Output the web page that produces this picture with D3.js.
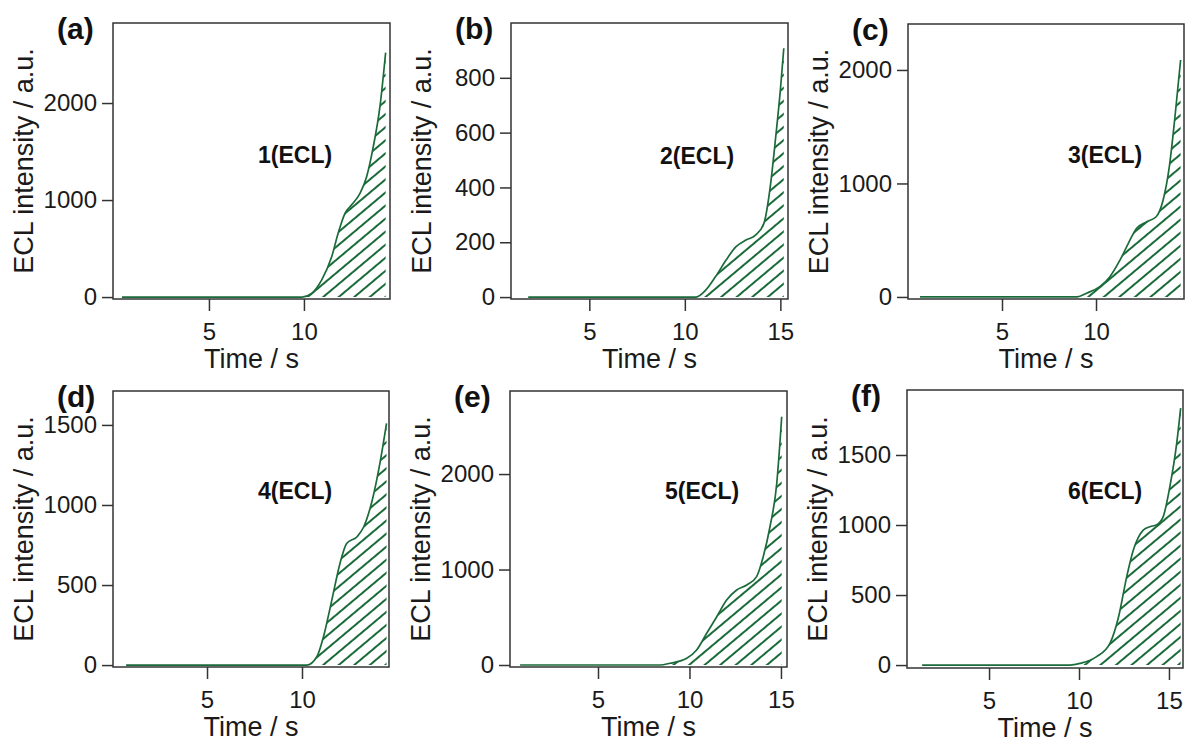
<!DOCTYPE html>
<html>
<head>
<meta charset="utf-8">
<script src="https://cdn.jsdelivr.net/npm/d3@7"></script>
<style>
  body { margin: 0; background: #fff; }
  svg { display: block; font-family: "Liberation Sans", Arial, sans-serif; }
</style>
</head>
<body>
<div id="chart"></div>
<script>
// panel titles and sample names
const panelLetters = ["(a)", "(b)", "(c)", "(d)", "(e)", "(f)"];
const sampleLabels = ["1(ECL)", "2(ECL)", "3(ECL)", "4(ECL)", "5(ECL)", "6(ECL)"];

// ECL transients (time in s, intensity in a.u.)
const timeA = [0.42, 9.9, 10.4, 10.93, 11.46, 11.8, 12.16, 12.5, 12.95, 13.3, 13.65, 14.0, 14.3];
const eclA  = [0, 0, 38, 175, 415, 657, 863, 948, 1069, 1240, 1550, 1962, 2520];

const timeB = [1.8, 10.58, 11.1, 11.6, 12.16, 12.68, 13.2, 13.7, 14.14, 14.47, 14.74, 15.0, 15.18];
const eclB  = [0, 0, 26, 74, 135, 184, 208, 226, 269, 402, 573, 755, 908];

const timeC = [0.64, 9.0, 9.5, 10.2, 10.74, 11.28, 11.72, 12.16, 12.7, 13.2, 13.57, 13.9, 14.2, 14.5];
const eclC  = [0, 0, 33, 91, 179, 326, 473, 605, 663, 707, 854, 1148, 1588, 2088];

const timeD = [0.74, 10.25, 10.78, 11.13, 11.57, 12.0, 12.35, 12.9, 13.25, 13.7, 14.1, 14.45];
const eclD  = [0, 0, 52, 177, 406, 635, 760, 802, 864, 1031, 1260, 1510];

const timeE = [0.74, 8.39, 8.93, 9.85, 10.39, 10.94, 11.49, 12.03, 12.58, 13.13, 13.67, 14.03, 14.4, 14.77, 15.04];
const eclE  = [0, 0, 18, 70, 157, 332, 506, 680, 785, 838, 925, 1134, 1448, 1903, 2600];

const timeF = [1.28, 9.5, 10.05, 10.98, 11.72, 12.2, 12.65, 13.02, 13.57, 13.94, 14.3, 14.68, 15.05, 15.43, 15.65];
const eclF  = [0, 0, 12, 60, 155, 345, 630, 821, 964, 988, 1000, 1060, 1274, 1583, 1834];

// axis ranges and tick values
const xDomains = [[-0.05, 14.53], [0.9, 15.4], [0, 14.68], [0.05, 14.58], [0.19, 15.33], [0.44, 15.78]];
const yDomains = [[-20, 2825], [-7, 1000], [-18, 2405], [-12, 1712], [-21, 2870], [-21, 1964]];
const xTicks = [[5, 10], [5, 10, 15], [5, 10], [5, 10], [5, 10, 15], [5, 10, 15]];
const yTicks = [[0, 1000, 2000], [0, 200, 400, 600, 800], [0, 1000, 2000], [0, 500, 1000, 1500], [0, 1000, 2000], [0, 500, 1000, 1500]];

const times = [timeA, timeB, timeC, timeD, timeE, timeF];
const ecls = [eclA, eclB, eclC, eclD, eclE, eclF];

const lineColor = "#1a6b39";
const axisColor = "#333";

// panel boxes on the page
const layout = [
    { left: 113, top: 23, width: 277, height: 276, labelDx: 145, labelDy: 140 },
    { left: 511, top: 23, width: 277, height: 276, labelDx: 149, labelDy: 141 },
    { left: 908, top: 24, width: 276, height: 275, labelDx: 160, labelDy: 139 },
    { left: 113, top: 391, width: 276, height: 276, labelDx: 145, labelDy: 108 },
    { left: 510, top: 391, width: 277, height: 276, labelDx: 155, labelDy: 108 },
    { left: 907, top: 390, width: 276, height: 278, labelDx: 161, labelDy: 109 }
];

function drawChart() {
    const svg = d3.select("#chart")
        .append("svg")
        .attr("width", 1187)
        .attr("height", 744);

    const defs = svg.append("defs");
    defs.append("pattern")
        .attr("id", "hatch")
        .attr("patternUnits", "userSpaceOnUse")
        .attr("width", 10)
        .attr("height", 10)
        .attr("patternTransform", "rotate(-40)")
        .append("line")
        .attr("x1", 0).attr("y1", 5)
        .attr("x2", 10).attr("y2", 5)
        .attr("stroke", lineColor)
        .attr("stroke-width", 2);

    layout.forEach((box, i) => drawPanel(svg, box, i));
}

function drawPanel(svg, box, i) {
    const w = box.width;
    const h = box.height;
    const data = times[i].map((t, k) => ({ t: t, v: ecls[i][k] }));

    const x = d3.scaleLinear().domain(xDomains[i]).range([0, w]);
    const y = d3.scaleLinear().domain(yDomains[i]).range([h, 0]);

    const g = svg.append("g")
        .attr("transform", `translate(${box.left},${box.top})`);

    const area = d3.area()
        .curve(d3.curveMonotoneX)
        .x(d => x(d.t))
        .y0(y(0))
        .y1(d => y(d.v));

    const line = d3.line()
        .curve(d3.curveMonotoneX)
        .x(d => x(d.t))
        .y(d => y(d.v));

    g.append("path")
        .datum(data)
        .attr("fill", "url(#hatch)")
        .attr("d", area);

    g.append("path")
        .datum(data)
        .attr("fill", "none")
        .attr("stroke", lineColor)
        .attr("stroke-width", 1.7)
        .attr("d", line);

    // frame
    g.append("rect")
        .attr("width", w)
        .attr("height", h)
        .attr("fill", "none")
        .attr("stroke", axisColor)
        .attr("stroke-width", 1.5);

    const xAxis = g.append("g")
        .attr("transform", `translate(0,${h})`)
        .call(d3.axisBottom(x).tickValues(xTicks[i]).tickFormat(d3.format("d"))
            .tickSize(12).tickSizeOuter(0).tickPadding(12));
    const yAxis = g.append("g")
        .call(d3.axisLeft(y).tickValues(yTicks[i]).tickFormat(d3.format("d"))
            .tickSize(11).tickSizeOuter(0).tickPadding(5));

    [xAxis, yAxis].forEach(ax => {
        ax.select(".domain").remove();
        ax.selectAll("line").attr("stroke", axisColor).attr("stroke-width", 1.5);
        ax.selectAll("text")
            .attr("fill", "#1a1a1a")
            .style("font-size", "24px")
            .style("font-family", "'Liberation Sans', Arial, sans-serif");
    });

    g.append("text")
        .attr("x", w / 2)
        .attr("y", h + 69)
        .attr("text-anchor", "middle")
        .attr("fill", "#1a1a1a")
        .style("font-size", "27px")
        .text("Time / s");

    g.append("text")
        .attr("transform", `translate(-80,${h / 2}) rotate(-90)`)
        .attr("text-anchor", "middle")
        .attr("fill", "#1a1a1a")
        .style("font-size", "27px")
        .text("ECL intensity / a.u.");

    g.append("text")
        .attr("x", -56)
        .attr("y", 16)
        .attr("fill", "#111")
        .style("font-size", "30px")
        .style("font-weight", "bold")
        .text(panelLetters[i]);

    g.append("text")
        .attr("x", box.labelDx)
        .attr("y", box.labelDy)
        .attr("fill", "#111")
        .style("font-size", "23px")
        .style("font-weight", "bold")
        .text(sampleLabels[i]);
}

drawChart();
</script>
</body>
</html>
